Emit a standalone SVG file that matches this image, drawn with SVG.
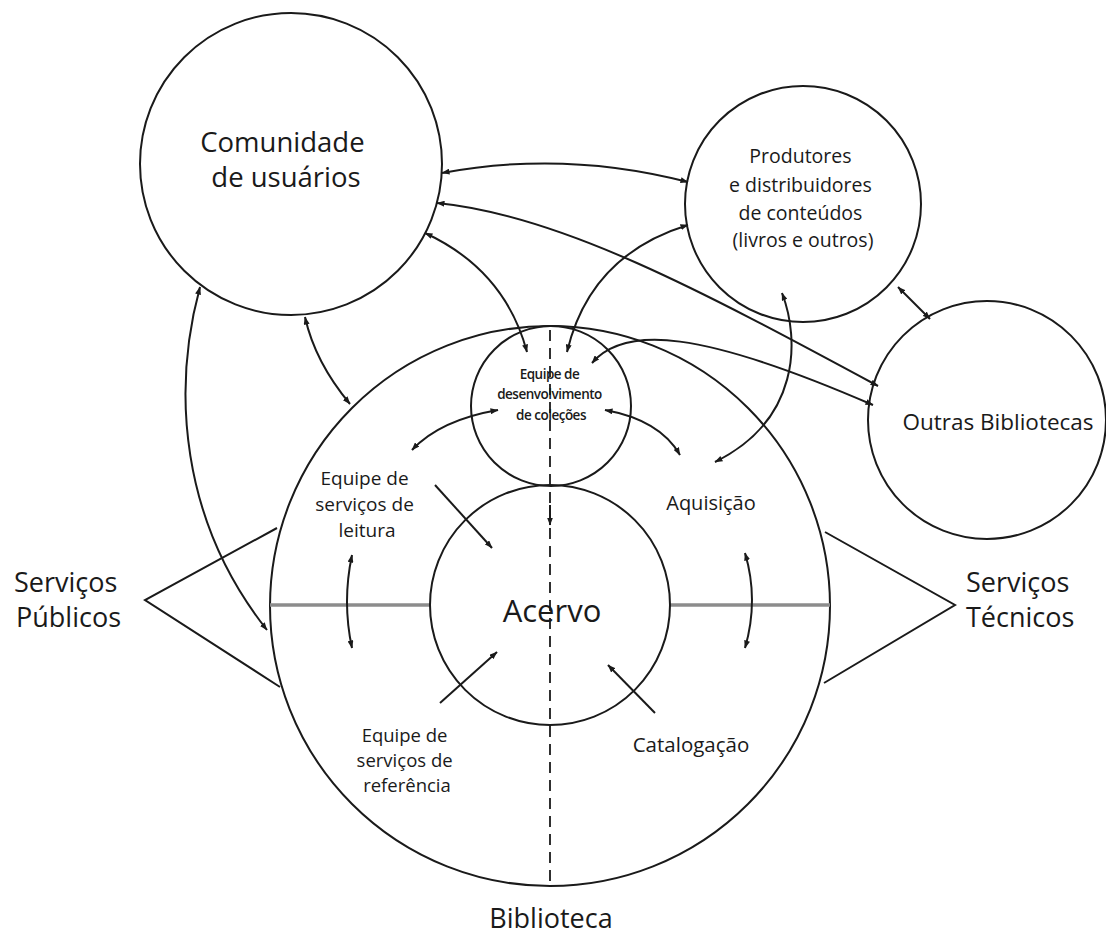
<svg xmlns="http://www.w3.org/2000/svg" width="1106" height="935" viewBox="0 0 1106 935">
<defs>
<marker id="ah" viewBox="0 0 8 6" refX="7.5" refY="3" markerWidth="8" markerHeight="6" markerUnits="userSpaceOnUse" orient="auto-start-reverse">
<path d="M0,0 L8,3 L0,6 z" fill="#1a1a1a"/>
</marker>
</defs>
<style>
.c{fill:none;stroke:#1a1a1a;stroke-width:2}
.l{fill:none;stroke:#1a1a1a;stroke-width:2}
.bi{marker-start:url(#ah);marker-end:url(#ah)}
.one{marker-end:url(#ah)}
.gray{stroke:#8c8c8c;stroke-width:3.5;fill:none}
text{font-family:"Open Sans","Noto Sans",sans-serif;fill:#1a1a1a;text-anchor:middle}
.st{text-anchor:start}
</style>
<rect width="1106" height="935" fill="#fff"/>

<g id="biblioteca">
<circle class="c" cx="550" cy="606" r="280"/>
<line class="gray" x1="270" y1="605" x2="430" y2="605"/>
<line class="gray" x1="670" y1="605" x2="830" y2="605"/>
<line x1="550" y1="330" x2="550" y2="886" stroke="#1a1a1a" stroke-width="1.8" stroke-dasharray="11,7"/>
<text x="551" y="928" font-size="27">Biblioteca</text>
</g>

<g id="acervo">
<circle class="c" cx="550" cy="605" r="120"/>
<text x="552" y="622" font-size="31">Acervo</text>
</g>

<g id="equipe-desenvolvimento">
<circle class="c" cx="551" cy="406" r="80"/>
<text font-size="13.5" font-weight="600" letter-spacing="-0.5">
<tspan x="551" y="379">Equipe de</tspan>
<tspan x="551" y="399">desenvolvimento</tspan>
<tspan x="551" y="420">de coleções</tspan>
</text>
</g>

<g id="comunidade">
<circle class="c" cx="291" cy="164" r="151"/>
<text font-size="27.5">
<tspan x="286" y="152">Comunidade</tspan>
<tspan x="286" y="187">de usuários</tspan>
</text>
</g>

<g id="produtores">
<circle class="c" cx="803" cy="204" r="118"/>
<text font-size="19.5">
<tspan x="803" y="163">Produtores</tspan>
<tspan x="803" y="192">e distribuidores</tspan>
<tspan x="803" y="220">de conteúdos</tspan>
<tspan x="803" y="247">(livros e outros)</tspan>
</text>
</g>

<g id="outras-bibliotecas">
<circle class="c" cx="987" cy="420" r="119"/>
<text x="998" y="430" font-size="22.5">Outras Bibliotecas</text>
</g>

<g id="leitura">
<text font-size="19">
<tspan x="367" y="485">Equipe de</tspan>
<tspan x="367" y="511">serviços de</tspan>
<tspan x="367" y="537">leitura</tspan>
</text>
</g>

<g id="aquisicao">
<text x="711" y="510" font-size="20">Aquisição</text>
</g>

<g id="referencia">
<text font-size="18.5">
<tspan x="407" y="742">Equipe de</tspan>
<tspan x="407" y="767">serviços de</tspan>
<tspan x="407" y="792">referência</tspan>
</text>
</g>

<g id="catalogacao">
<text x="691" y="752" font-size="20.5">Catalogação</text>
</g>

<g id="servicos-publicos">
<polyline class="l" points="277,528 145,600 280,687"/>
<text font-size="27" class="st">
<tspan x="14" y="592">Serviços</tspan>
<tspan x="16" y="627">Públicos</tspan>
</text>
</g>

<g id="servicos-tecnicos">
<polyline class="l" points="825,532 955,605 824,683"/>
<text font-size="27" class="st">
<tspan x="966" y="592">Serviços</tspan>
<tspan x="966" y="627">Técnicos</tspan>
</text>
</g>

<g id="connectors">
<path class="l bi" d="M442,173 Q565,150 688,182"/>
<path class="l bi" d="M437,203 C560,215 700,290 878,386"/>
<path class="l bi" d="M592,363 C625,325 700,330 873,405"/>
<path class="l bi" d="M425,233 Q505,270 527,352"/>
<path class="l bi" d="M567,352 Q590,255 688,225"/>
<path class="l bi" d="M782,293 C800,340 800,420 715,462"/>
<path class="l bi" d="M898,287 L930,319"/>
<path class="l bi" d="M305,317 Q315,362 350,404"/>
<path class="l bi" d="M200,287 C172,390 180,520 267,630"/>
<path class="l bi" d="M412,450 Q440,420 498,410"/>
<path class="l bi" d="M605,410 Q660,420 680,455"/>
<path class="l one" d="M435,485 L492,548"/>
<path class="l one" d="M550,505 L550,525"/>
<path class="l bi" d="M352,555 Q342,602 352,648"/>
<path class="l bi" d="M745,553 Q759,600 745,648"/>
<path class="l one" d="M440,703 L497,652"/>
<path class="l one" d="M655,713 L608,665"/>
</g>
</svg>
